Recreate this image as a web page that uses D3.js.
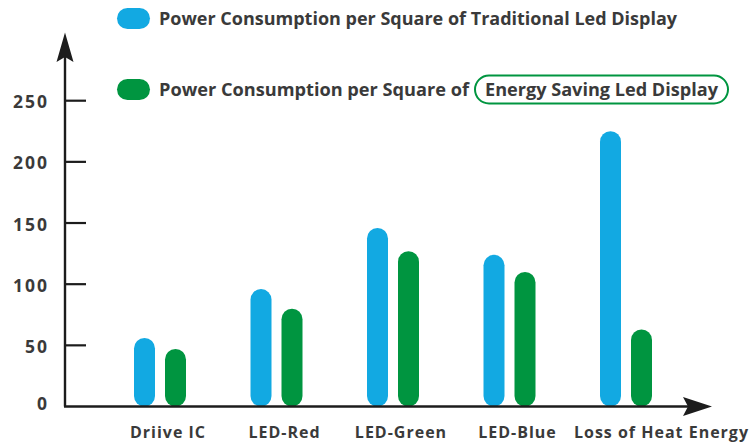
<!DOCTYPE html>
<html>
<head>
<meta charset="utf-8">
<script src="https://cdn.jsdelivr.net/npm/d3@7"></script>
<style>
  html, body { margin: 0; padding: 0; background: #fff; }
  svg { display: block; }
</style>
</head>
<body>
<div id="chart"></div>
<script>
// Données
const categories = ["Driive IC", "LED-Red", "LED-Green", "LED-Blue", "Loss of Heat Energy"];
const series = ["traditional", "saving"];
const traditional = [56, 96, 146, 124, 225];
const saving = [47, 80, 127, 110, 63];
const yTicks = [0, 50, 100, 150, 200, 250];
const legendPrefix = "Power Consumption per Square of";
const legendTrad = "Power Consumption per Square of Traditional Led Display";
const legendSaving = "Energy Saving Led Display";

const W = 750, H = 445;
const BLUE = "#12a9e2", GREEN = "#009540", INK = "#3a3a3a", AXIS = "#1c1c1c";
const FONT = "'Open Sans', Lato, sans-serif";

const svg = d3.select("#chart").append("svg")
  .attr("width", W).attr("height", H)
  .attr("viewBox", `0 0 ${W} ${H}`);

const x0 = 65;          // axe Y
const y = d3.scaleLinear().domain([0, 250]).range([406.5, 100.7]);
const x = d3.scalePoint().domain(categories).range([160, 626]);
const xs = d3.scalePoint().domain(series).range([-15.5, 15.5]);
const barW = 21;

const rows = categories.map((c, i) => ({ cat: c, traditional: traditional[i], saving: saving[i] }));

// Barres arrondies
const groups = svg.append("g").selectAll("g")
  .data(rows).enter().append("g")
  .attr("transform", d => `translate(${x(d.cat)},0)`);

groups.selectAll("rect")
  .data(d => series.map(s => ({ s, v: d[s] })))
  .enter().append("rect")
  .attr("x", d => xs(d.s) - barW / 2)
  .attr("width", barW)
  .attr("y", d => y(d.v))
  .attr("height", d => y(0) - y(d.v))
  .attr("rx", barW / 2)
  .attr("fill", d => d.s === "traditional" ? BLUE : GREEN);

// Axe Y
svg.append("line")
  .attr("x1", x0).attr("x2", x0)
  .attr("y1", 50).attr("y2", y(0))
  .attr("stroke", AXIS).attr("stroke-width", 2.4);

svg.append("path")
  .attr("d", `M${x0},32.5 L${x0 + 8.5},62 L${x0},57 L${x0 - 8.5},62 Z`)
  .attr("fill", AXIS);

svg.append("g").selectAll("line")
  .data(yTicks.filter(d => d > 0)).enter().append("line")
  .attr("x1", x0).attr("x2", x0 + 21)
  .attr("y1", d => y(d)).attr("y2", d => y(d))
  .attr("stroke", AXIS).attr("stroke-width", 2.2);

svg.append("g").selectAll("text")
  .data(yTicks).enter().append("text")
  .attr("x", 49)
  .attr("y", d => y(d) + (d === 0 ? 3 : 7.5))
  .attr("text-anchor", "end")
  .attr("fill", INK)
  .attr("font-family", FONT)
  .attr("font-weight", 700)
  .attr("font-size", "17.5px")
  .attr("letter-spacing", "2px")
  .text(d => d);

// Axe X
svg.append("line")
  .attr("x1", x0 - 1).attr("x2", 700)
  .attr("y1", y(0)).attr("y2", y(0))
  .attr("stroke", AXIS).attr("stroke-width", 2.4);

svg.append("path")
  .attr("d", `M712,${y(0)} L683,${y(0) - 9.5} L688,${y(0)} L683,${y(0) + 9.5} Z`)
  .attr("fill", AXIS);

// Libellés X
svg.append("g").selectAll("text")
  .data(categories).enter().append("text")
  .attr("y", 438)
  .attr("fill", INK)
  .attr("font-family", FONT)
  .attr("font-weight", 700)
  .attr("font-size", "16px")
  .attr("letter-spacing", "1px")
  .text(d => d)
  .each(function(d) {
    const w = this.getComputedTextLength();
    const cx = x(d) + 8;
    if (cx + w / 2 > 718) {
      d3.select(this).attr("x", 749).attr("text-anchor", "end");
    } else {
      d3.select(this).attr("x", cx).attr("text-anchor", "middle");
    }
  });

// Légende
const legend = svg.append("g");
legend.append("rect")
  .attr("x", 117).attr("y", 8).attr("width", 33).attr("height", 21).attr("rx", 10.5)
  .attr("fill", BLUE);
legend.append("rect")
  .attr("x", 117).attr("y", 79).attr("width", 33).attr("height", 21).attr("rx", 10.5)
  .attr("fill", GREEN);

const legText = (txt, xx, yy, len) => legend.append("text")
  .attr("x", xx).attr("y", yy)
  .attr("fill", INK)
  .attr("font-family", FONT)
  .attr("font-weight", 700)
  .attr("font-size", "17px")
  .attr("textLength", len)
  .attr("lengthAdjust", "spacingAndGlyphs")
  .text(txt);

legText(legendTrad, 159, 25, 518);
legText(legendPrefix, 159, 95.5, 310);

legend.append("rect")
  .attr("x", 475).attr("y", 75.5).attr("width", 253).attr("height", 28).attr("rx", 14)
  .attr("fill", "none").attr("stroke", GREEN).attr("stroke-width", 2);
legText(legendSaving, 485, 95.5, 233);
</script>
</body>
</html>
